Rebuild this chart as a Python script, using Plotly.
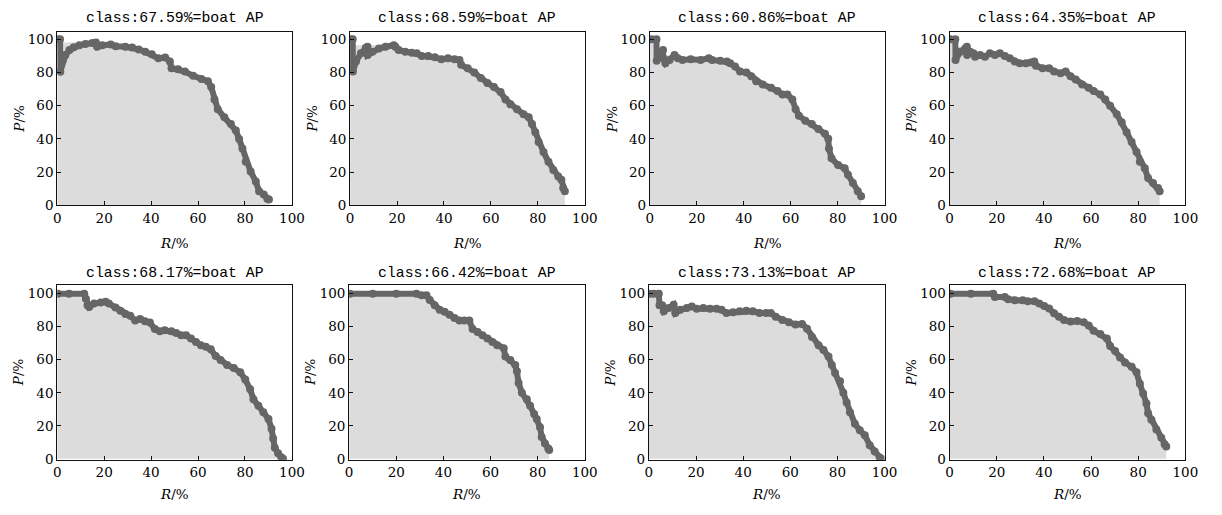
import numpy as np
import plotly.graph_objects as go

AP = ["67.59", "68.59", "60.86", "64.35", "68.17", "66.42", "73.13", "72.68"]

R1 = [0.3, 1.2, 1.3, 2.4, 3.5, 5.2, 7.0, 9.4, 12.0, 15.0, 16.5, 17.0, 19.2, 22.8, 24.9, 29.0, 31.9, 34.7, 37.5, 40.3,
      43.1, 46.0, 48.0, 48.7, 51.5, 54.4, 57.9, 61.4, 64.2, 65.6, 67.0, 68.4, 71.2, 74.0, 76.1, 77.5, 78.9, 80.3, 82.4, 84.6,
      86.0, 88.0, 89.5, 90.2]
P1 = [100, 100, 80.5, 87.5, 90.5, 93.5, 95.2, 96.4, 97.2, 97.8, 98.0, 95.5, 96.4, 96.8, 95.8, 95.5, 95.0, 93.9, 92.5, 90.9,
      88.5, 89.0, 86.6, 82.6, 82.0, 80.6, 78.0, 76.0, 74.7, 71.3, 63.8, 57.9, 53.0, 49.0, 45.0, 40.0, 34.2, 26.3, 20.4, 14.4,
      8.5, 6.5, 4.0, 3.5]

R2 = [0.4, 1.1, 1.2, 2.5, 4.6, 6.7, 7.4, 7.5, 9.5, 12.3, 15.1, 18.6, 19.3, 20.7, 23.5, 26.3, 28.4, 30.5, 33.3, 36.1,
      38.9, 41.7, 44.5, 46.6, 47.3, 50.1, 52.9, 55.7, 58.5, 61.3, 64.1, 66.2, 68.3, 71.1, 73.9, 76.1, 77.5, 78.9, 80.3, 82.4,
      84.5, 86.6, 88.7, 90.0, 90.8, 91.5]
P2 = [100, 100, 80.6, 86.6, 91.5, 94.9, 95.5, 90.5, 92.5, 94.5, 95.5, 96.4, 95.5, 93.5, 92.5, 91.9, 91.5, 89.9, 89.9, 89.1,
      87.9, 88.5, 87.9, 87.5, 84.6, 82.6, 80.0, 76.7, 73.7, 71.3, 68.2, 63.8, 60.9, 57.9, 54.9, 53.0, 49.0, 44.0, 38.1, 32.2,
      26.3, 21.3, 17.4, 15.4, 10.5, 8.5]

R3 = [0.7, 2.8, 2.9, 4.2, 5.6, 5.7, 6.6, 8.4, 10.5, 11.9, 13.9, 17.4, 21.6, 25.1, 26.5, 30.0, 32.8, 34.2, 36.3, 38.4,
      41.1, 43.2, 45.3, 48.1, 51.6, 54.4, 56.5, 58.6, 60.7, 62.1, 63.5, 66.2, 69.0, 71.8, 74.6, 76.0, 76.3, 77.4, 80.2, 83.0,
      84.4, 86.5, 88.6, 90.0]
P3 = [100, 100, 87.0, 91.5, 93.5, 88.5, 85.6, 87.5, 90.5, 88.5, 87.5, 87.9, 87.5, 88.5, 87.5, 87.0, 86.6, 85.6, 83.6, 80.6,
      80.0, 77.7, 74.7, 72.7, 70.8, 68.8, 66.8, 66.8, 63.8, 57.9, 54.0, 51.0, 49.0, 46.0, 43.1, 40.1, 34.2, 28.3, 24.3, 22.3,
      18.4, 13.4, 8.5, 5.5]

R4 = [0.3, 2.4, 2.5, 4.5, 6.6, 7.3, 7.4, 8.7, 10.1, 10.8, 12.9, 15.0, 17.1, 19.2, 21.3, 23.4, 25.5, 27.6, 29.7, 32.4,
      34.5, 35.9, 36.6, 39.4, 42.2, 44.3, 47.1, 49.2, 51.3, 53.5, 56.2, 59.0, 61.1, 63.9, 66.0, 68.1, 70.9, 73.0, 75.1, 77.2,
      79.3, 80.7, 82.8, 84.2, 86.3, 88.4, 89.1]
P4 = [100, 100, 87.5, 92.5, 94.5, 95.5, 90.5, 92.5, 91.5, 89.5, 90.5, 89.5, 91.5, 90.5, 91.5, 89.9, 88.5, 86.6, 85.6, 85.6,
      86.0, 86.6, 84.0, 82.6, 82.6, 80.6, 79.6, 80.6, 77.7, 75.7, 72.7, 70.8, 68.8, 66.8, 63.8, 59.9, 54.9, 50.0, 44.0, 38.1,
      32.2, 26.3, 22.3, 16.4, 13.4, 10.5, 8.5]

R5 = [0.3, 5.0, 11.5, 12.2, 12.9, 13.6, 15.7, 18.5, 20.6, 22.0, 24.8, 26.9, 29.0, 31.1, 33.2, 35.3, 37.4, 39.5, 41.6, 43.7,
      45.8, 48.6, 50.7, 52.8, 54.9, 57.0, 59.1, 61.2, 63.3, 65.4, 67.5, 69.6, 72.4, 75.2, 78.0, 80.1, 82.2, 83.6, 85.7, 87.8,
      90.0, 91.3, 92.0, 92.7, 94.1, 95.5, 96.2]
P5 = [100, 100, 100, 97.0, 93.0, 92.0, 94.0, 94.6, 95.2, 94.0, 91.7, 89.7, 87.7, 86.7, 83.7, 84.7, 83.3, 82.5, 78.6, 77.2,
      77.8, 77.2, 76.2, 74.8, 74.8, 72.8, 70.8, 68.8, 67.9, 66.3, 62.3, 59.9, 56.9, 55.0, 52.4, 48.0, 42.1, 36.1, 32.1, 28.2,
      24.2, 18.3, 12.3, 6.7, 3.4, 0.8, 0.0]

R6 = [0.3, 10.0, 20.0, 28.6, 30.7, 32.8, 34.2, 36.3, 38.4, 40.5, 42.6, 44.7, 46.8, 48.9, 51.0, 52.4, 54.5, 56.6, 58.7, 60.8,
      62.8, 65.6, 66.3, 68.4, 70.5, 71.2, 71.9, 73.3, 75.4, 76.8, 78.5, 79.6, 81.0, 81.7, 83.1, 84.5, 84.9]
P6 = [100, 100, 100, 100, 99.0, 99.0, 96.2, 93.0, 90.3, 89.0, 87.3, 85.3, 83.7, 83.7, 83.7, 78.6, 76.8, 74.8, 72.8, 70.8,
      68.8, 66.9, 61.9, 59.9, 56.9, 53.0, 46.0, 40.0, 36.1, 32.1, 27.2, 24.2, 19.2, 13.3, 9.3, 6.3, 5.4]

R7 = [0.3, 2.0, 4.2, 4.5, 5.6, 6.3, 8.4, 10.5, 11.2, 13.3, 16.1, 18.2, 20.3, 23.1, 25.9, 28.7, 30.8, 32.9, 35.7, 38.5,
      41.3, 44.1, 46.9, 49.7, 51.7, 53.8, 56.6, 59.4, 62.2, 65.0, 67.1, 69.2, 72.0, 74.1, 76.2, 77.6, 79.0, 81.1, 82.5, 83.9,
      85.3, 87.4, 89.5, 91.6, 93.7, 95.8, 97.9, 98.6]
P7 = [100, 100, 100, 93.0, 93.0, 89.3, 91.3, 93.3, 88.3, 90.3, 91.3, 92.2, 90.9, 91.3, 90.9, 90.9, 90.3, 88.3, 88.7, 89.3,
      89.7, 89.3, 88.3, 88.3, 88.3, 86.1, 84.1, 82.7, 81.3, 81.7, 78.8, 73.8, 68.8, 65.9, 61.9, 56.9, 52.0, 47.0, 40.1, 34.1,
      28.2, 21.2, 17.3, 14.3, 8.3, 4.4, 0.8, 0.0]

R8 = [0.3, 9.0, 18.5, 19.2, 23.4, 24.8, 27.6, 31.0, 33.1, 36.0, 38.0, 40.1, 42.2, 44.3, 46.4, 48.5, 51.3, 54.1, 56.9, 59.0,
      61.1, 63.9, 66.7, 68.1, 70.2, 72.3, 74.4, 77.2, 79.3, 80.7, 82.1, 83.5, 84.2, 85.6, 87.7, 89.8, 91.2, 91.9]
P8 = [100, 100, 100, 98.0, 98.0, 96.6, 96.0, 96.0, 95.4, 95.4, 94.0, 92.6, 91.1, 88.1, 86.1, 84.1, 83.1, 83.5, 82.7, 80.7,
      77.6, 75.6, 72.8, 68.3, 65.3, 61.3, 58.3, 55.7, 52.4, 45.4, 39.5, 33.5, 27.6, 23.6, 17.7, 12.8, 8.9, 7.5]

RECALLS = [R1, R2, R3, R4, R5, R6, R7, R8]
PRECS = [P1, P2, P3, P4, P5, P6, P7, P8]
TICKS = [0, 20, 40, 60, 80, 100]

W, H = 1222, 515
XPX = [(54, 292), (351, 589), (655, 893), (959, 1198), (54, 292), (350, 589), (654, 893), (959, 1198)]
YPX = [(32, 208)] * 4 + [(289, 467)] * 4
YR = [[0, 104.1]] * 4 + [[-0.6, 105.3]] * 4
TITLE_Y = [17] * 4 + [277] * 4
XT_Y = [246] * 4 + [502] * 4

LINE = "#666666"
FILL = "#dcdcdc"
SERIF = "DejaVu Serif"
MONO = "Liberation Mono"

fig = go.Figure()
layout = {}
annotations = []
for i in range(8):
    s = "" if i == 0 else str(i + 1)
    r = np.array(RECALLS[i], dtype=float)
    p = np.array(PRECS[i], dtype=float)
    mpre = np.concatenate([[0.0], p, [0.0]])
    env = np.maximum.accumulate(mpre[::-1])[::-1]
    ax_x = np.concatenate([[0.0], r, [r[-1]]])
    ax_y = np.concatenate([[env[0]], env[1:-1], [0.0]])
    fig.add_trace(go.Scatter(x=ax_x, y=ax_y, mode="lines", fill="tozeroy", fillcolor=FILL,
                             line=dict(width=0, color=FILL), xaxis="x" + s, yaxis="y" + s,
                             showlegend=False, hoverinfo="skip"))
    fig.add_trace(go.Scatter(x=r, y=p, mode="lines+markers", line=dict(color=LINE, width=6),
                             marker=dict(color=LINE, size=8), xaxis="x" + s, yaxis="y" + s,
                             showlegend=False))
    x0, x1 = XPX[i]
    y0, y1 = YPX[i]
    common = dict(showline=True, mirror=True, linecolor="#111111", linewidth=1, ticks="inside",
                  ticklen=4, tickcolor="#111111", showgrid=False, zeroline=False,
                  tickvals=TICKS, ticktext=[str(t) for t in TICKS],
                  tickfont=dict(family=SERIF, size=13.5, color="black"))
    layout["xaxis" + s] = dict(domain=[x0 / W, x1 / W], range=[0, 100], anchor="y" + s, **common)
    layout["yaxis" + s] = dict(domain=[(H - y1) / H, (H - y0) / H], range=YR[i], anchor="x" + s, **common)
    xc = (x0 + x1) / 2 / W
    annotations.append(dict(text="class:" + AP[i] + "%=boat AP", x=xc, y=(H - TITLE_Y[i]) / H,
                            xref="paper", yref="paper", showarrow=False, xanchor="center", yanchor="middle",
                            font=dict(family=MONO, size=14.8, color="black")))
    annotations.append(dict(text="<i>R</i>/%", x=xc, y=(H - XT_Y[i]) / H,
                            xref="paper", yref="paper", showarrow=False, xanchor="center", yanchor="middle",
                            font=dict(family=SERIF, size=13.5, color="black")))
    annotations.append(dict(text="<i>P</i>/%", x=(x0 - 39) / W, y=(H - (y0 + y1) / 2) / H, textangle=-90,
                            xref="paper", yref="paper", showarrow=False, xanchor="center", yanchor="middle",
                            font=dict(family=SERIF, size=13.5, color="black")))

fig.update_layout(width=W, height=H, margin=dict(l=0, r=0, t=0, b=0), paper_bgcolor="white",
                  plot_bgcolor="white", showlegend=False, annotations=annotations, **layout)
fig.write_html("out.html")
